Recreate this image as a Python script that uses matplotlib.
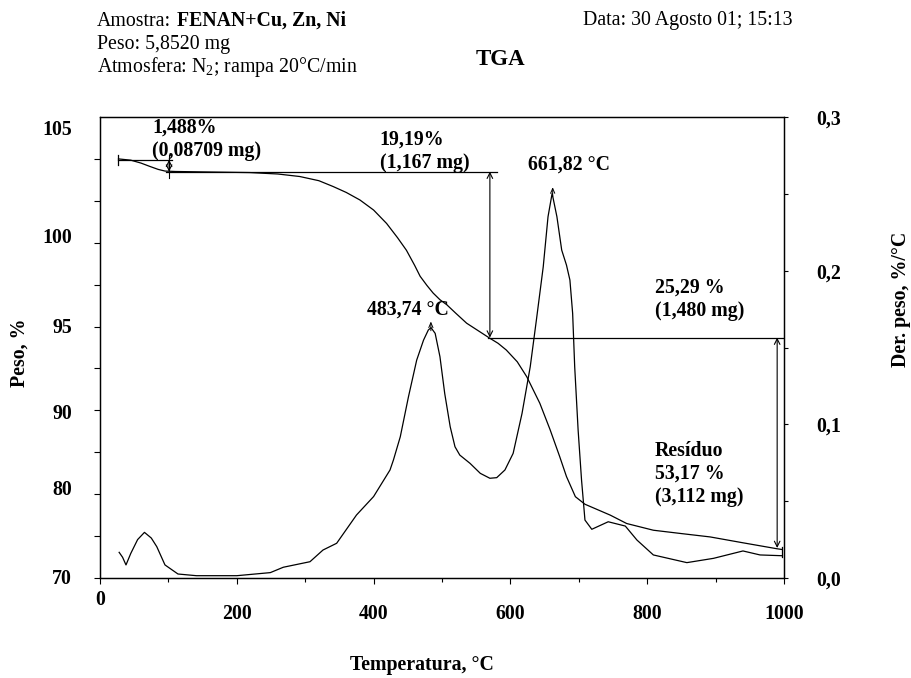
import numpy as np
import matplotlib
matplotlib.use('Agg')
import matplotlib.pyplot as plt

plt.rcParams['font.family'] = ['Liberation Serif', 'DejaVu Serif']
plt.rcParams['mathtext.fontset'] = 'custom'
plt.rcParams['mathtext.rm'] = 'Liberation Serif'
plt.rcParams['mathtext.bf'] = 'Liberation Serif:bold'

W, H = 911, 678
FS = 14.3

# curva TGA (peso, %)
tga_temp = [27, 45, 60, 73, 85, 95, 110, 150, 219, 260, 292, 320, 341, 360, 380,
            400, 419, 435, 448, 460, 468, 478, 487, 497, 507, 520, 536, 553, 570,
            582, 594, 610, 624, 643, 658, 672, 682, 695, 709, 746, 770, 809, 850,
            892, 940, 989, 997]
tga_peso = [100.0, 99.85, 99.5, 99.1, 98.75, 98.55, 98.5, 98.45, 98.37, 98.2, 97.9,
            97.4, 96.7, 96.0, 95.1, 93.9, 92.3, 90.6, 89.1, 87.3, 86.0, 84.9, 84.0,
            83.2, 82.6, 81.6, 80.4, 79.5, 78.6, 78.0, 77.2, 75.8, 74.0, 70.85, 67.7,
            64.5, 62.1, 59.7, 58.8, 57.5, 56.5, 55.7, 55.3, 54.9, 54.2, 53.5, 53.4]

# derivada (%/°C)
dtg_temp = [28, 33, 38, 45, 55, 65, 75, 83, 95, 114, 141, 200, 249, 268, 307, 326,
            346, 375, 400, 424, 429, 439, 451, 463, 473, 480, 484, 490, 497, 504,
            512, 519, 526, 541, 556, 570, 580, 592, 604, 617, 629, 638, 648, 655,
            661, 668, 675, 682, 687, 691, 694, 699, 704, 709, 719, 743, 768, 785,
            809, 858, 897, 940, 965, 997]
dtg_der = [0.0167, 0.0135, 0.0085, 0.016, 0.025, 0.0297, 0.026, 0.0204, 0.0085,
           0.0026, 0.0015, 0.0015, 0.0035, 0.007, 0.0106, 0.0182, 0.0226, 0.041,
           0.053, 0.0703, 0.0768, 0.0919, 0.118, 0.1418, 0.1548, 0.1614, 0.1629,
           0.1592, 0.144, 0.120, 0.0984, 0.0854, 0.080, 0.0746, 0.0681, 0.0649,
           0.0653, 0.0703, 0.0811, 0.1071, 0.1375, 0.1679, 0.2025, 0.2351, 0.2503,
           0.2351, 0.2134, 0.2036, 0.1939, 0.1722, 0.1375, 0.0963, 0.0638, 0.0377,
           0.0317, 0.0366, 0.0338, 0.0247, 0.015, 0.010, 0.0128, 0.0176, 0.015,
           0.0145]

temp_ticks = [0, 200, 400, 600, 800, 1000]
temp_labels = ['', '200', '400', '600', '800', '1000']
peso_tick_pos = [50.2, 60.8, 69.9, 80.1, 90.9, 103.7]
peso_tick_labels = ['70', '80', '90', '95', '100', '105']
der_ticks = [0.0, 0.1, 0.2, 0.3]
der_labels = ['0,0', '0,1', '0,2', '0,3']

# patamares e setas de perda de massa
patamar_peso = [99.9, 98.48, 78.68, 53.58]
patamar_ini = [27, 97, 567]
patamar_fim = [105, 580, 1000]
seta_temp = [101, 570, 990]

pico_temp = [483.74, 661.82]
pico_der = [0.1629, 0.2503]

rotulos = [
    (76, 103.1, ['1,488%', '(0,08709 mg)']),
    (409, 101.67, ['19,19%', '(1,167 mg)']),
    (626, 98.69, ['661,82 °C']),
    (390, 81.38, ['483,74 °C']),
    (811, 84.0, ['25,29 %', '(1,480 mg)']),
    (811, 64.56, ['Resíduo', '53,17 %', '(3,112 mg)']),
]


def px(x, y):
    return x / W, 1 - y / H


fig = plt.figure(figsize=(W / 100, H / 100), dpi=100)
ax = fig.add_axes([100 / W, 1 - 578 / H, 684 / W, 461 / H])
ax2 = ax.twinx()

lw = 0.9
ax.plot(tga_temp, tga_peso, color='black', lw=lw)
ax2.plot(dtg_temp, dtg_der, color='black', lw=lw)

ax.set_xlim(0, 1000)
ax.set_ylim(50, 105)
ax2.set_ylim(0, 0.3)

# linhas horizontais dos patamares
for p, a, b in zip(patamar_peso[:3], patamar_ini, patamar_fim):
    ax.plot([a, b], [p, p], color='black', lw=lw)

# setas verticais de perda de massa
for i, t in enumerate(seta_temp):
    ax.annotate('', xy=(t, patamar_peso[i + 1]), xytext=(t, patamar_peso[i]),
                arrowprops=dict(arrowstyle='<->,head_length=0.4,head_width=0.2',
                                lw=0.8, color='black', shrinkA=0, shrinkB=0))

# pequenos marcadores de extremidade
ax.plot([27, 27], [99.3, 100.5], color='black', lw=lw)
ax.plot([101, 101], [97.7, 100.5], color='black', lw=0.8)
ax.plot([997, 997], [52.55, 53.74], color='black', lw=lw)

# marcadores dos picos da derivada
for t, d in zip(pico_temp, pico_der):
    ax2.annotate('', xy=(t, d + 0.004), xytext=(t, d - 0.002),
                 arrowprops=dict(arrowstyle='->,head_length=0.35,head_width=0.15',
                                 lw=0.7, color='black', shrinkA=0, shrinkB=0))

for x, y, linhas in rotulos:
    for i, s in enumerate(linhas):
        ax.annotate(s, xy=(x, y), xytext=(0, -i * 16.5), textcoords='offset points',
                    va='baseline', ha='left', fontsize=FS, fontweight='bold')

# eixos
ax.set_xticks(temp_ticks)
ax.set_xticklabels(temp_labels, fontsize=FS, fontweight='bold')
ax.set_xticks(np.arange(100, 1000, 200), minor=True)
ax.set_yticks(peso_tick_pos)
ax.set_yticklabels(peso_tick_labels, fontsize=FS, fontweight='bold')
ax.set_yticks(np.arange(50, 101, 5), minor=True)
ax2.set_yticks(der_ticks)
ax2.set_yticklabels(der_labels, fontsize=FS, fontweight='bold')
ax2.set_yticks([0.05, 0.15, 0.25], minor=True)

ax.tick_params(axis='y', which='major', length=0, pad=20)
ax.tick_params(axis='y', which='minor', length=4, width=0.8, direction='out')
ax.tick_params(axis='x', which='major', length=4.5, width=0.8, pad=14.5)
ax.tick_params(axis='x', which='minor', length=3, width=0.8)
ax2.tick_params(axis='y', which='both', length=3, width=0.8, pad=20.5)

for a in (ax, ax2):
    for sp in a.spines.values():
        sp.set_linewidth(0.9)

fig.text(*px(100, 600), '0', ha='center', va='center', fontsize=FS, fontweight='bold')

fig.text(*px(20, 353), 'Peso, %', rotation=90, ha='center', va='center',
         fontsize=FS, fontweight='bold')
fig.text(*px(901, 299), 'Der. peso, %/°C', rotation=90, ha='center', va='center',
         fontsize=FS, fontweight='bold')
fig.text(*px(422, 665), 'Temperatura, °C', ha='center', va='center',
         fontsize=FS, fontweight='bold')

# cabecalho
t = fig.text(*px(97, 26), 'Amostra:', va='baseline', fontsize=FS)
ax2.annotate('FENAN+Cu, Zn, Ni', xy=(1, 0), xycoords=t, xytext=(4, 0),
             textcoords='offset points', va='bottom', ha='left',
             fontsize=FS, fontweight='bold')
fig.text(*px(97, 49), 'Peso: 5,8520 mg', va='baseline', fontsize=FS)
fig.text(*px(97, 72), 'Atmosfera: N$_2$; rampa 20°C/min', va='baseline', fontsize=FS)
fig.text(*px(583, 25), 'Data: 30 Agosto 01; 15:13', va='baseline', fontsize=FS)
fig.text(*px(476, 65), 'TGA', va='baseline', fontsize=16.5, fontweight='bold')

fig.savefig('out.png', dpi=100)
